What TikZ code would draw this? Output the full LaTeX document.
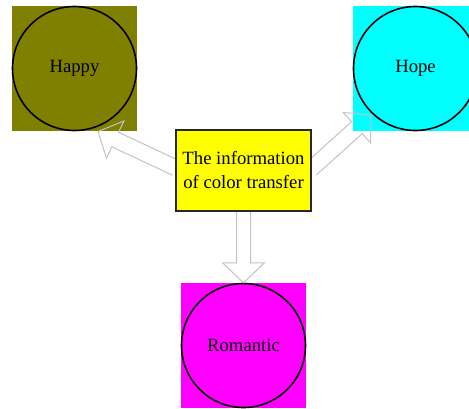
\documentclass[tikz,border=0pt]{standalone}
\usepackage{fontspec}
\setmainfont{Liberation Serif}
\usetikzlibrary{calc}
\definecolor{olivec}{RGB}{128,128,0}
\definecolor{cyanc}{RGB}{0,255,255}
\definecolor{magentac}{RGB}{255,0,255}
\definecolor{yellowc}{RGB}{255,255,0}
\definecolor{arrowgray}{RGB}{195,195,195}
\tikzset{
  sq/.style={rectangle, minimum size=125pt, inner sep=0pt, draw=none},
  circ/.style={circle, minimum size=124pt, inner sep=0pt, draw=black, line width=1.6pt, font=\fontsize{18.7}{24}\selectfont},
  infobox/.style={rectangle, minimum width=135pt, minimum height=81pt, inner sep=0pt, fill=yellowc, draw=black!85, line width=1.6pt, align=center, font=\fontsize{18.7}{24}\selectfont},
  hollow/.style={draw=arrowgray, line width=1pt, line join=miter}
}
% hollow block arrow from #1 to #2: shaft half width #3, head half width #4, head length #5
\newcommand\hollowarrow[5]{%
  \coordinate (hh) at ($(#2)!#5!(#1)$);
  \draw[hollow] ($(#1)!#3!90:(#2)$) -- ($(hh)!#3!-90:(#1)$) -- ($(hh)!#4!-90:(#1)$) -- (#2)
    -- ($(hh)!#4!90:(#1)$) -- ($(hh)!#3!90:(#1)$) -- ($(#1)!#3!-90:(#2)$);
}
\begin{document}
\begin{tikzpicture}[x=1pt,y=-1pt]
\useasboundingbox (0,0) rectangle (469,408);
\clip (0,0) rectangle (469,408);
% squares
\node[sq, fill=olivec] (sqhappy) at (74.5,68.5) {};
\node[sq, fill=cyanc] (sqhope) at (415.5,68.5) {};
\node[sq, fill=magentac] (sqrom) at (243.5,345.5) {};
% circles
\node[circ] (happy) at (sqhappy.center) {Happy};
\node[circ] (hope) at (sqhope.center) {Hope};
\node[circ] (romantic) at (sqrom.center) {Romantic};
% arrow tips
\coordinate (tipL) at (98,131.5);
\coordinate (tipR) at (371,115);
\coordinate (boxW) at (176,168);
\coordinate (boxE) at (311,169);
\coordinate (boxS) at (243.5,211);
% arrows
\hollowarrow{boxW}{tipL}{8pt}{20.5pt}{19pt}
\hollowarrow{boxE}{tipR}{8pt}{20.5pt}{19pt}
\hollowarrow{boxS}{sqrom.north}{7pt}{21pt}{20pt}
% central box
\node[infobox] (info) at (243.5,170.5) {The information\\of color transfer};
\end{tikzpicture}
\end{document}
